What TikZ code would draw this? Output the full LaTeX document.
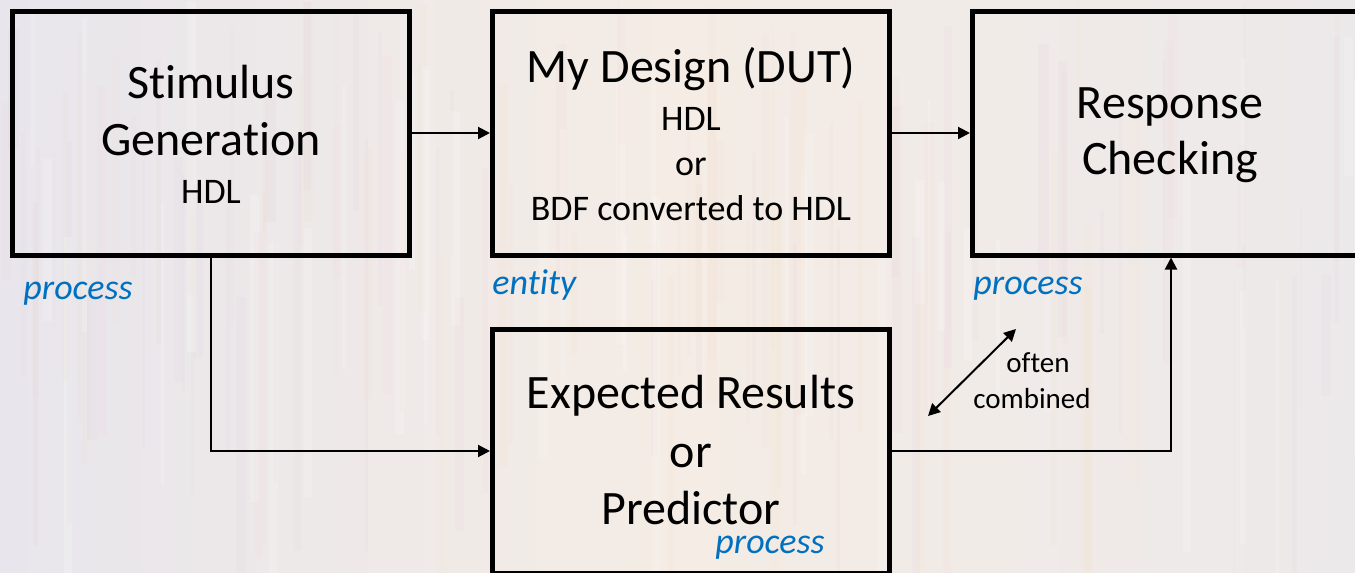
\documentclass[tikz,border=0pt]{standalone}
\usepackage{fontspec}
\setmainfont[Ligatures={NoCommon}]{Carlito}
\usetikzlibrary{arrows.meta}
\definecolor{labelblue}{HTML}{0070C0}
\definecolor{bgleft}{HTML}{E8E6EC}
\definecolor{bgmid}{HTML}{F4ECE5}
\definecolor{bgright}{HTML}{ECE9EA}
\begin{document}
\begin{tikzpicture}[x=0.5pt,y=-0.5pt,
  blk/.style={draw, line width=2.5pt, minimum width=198.5pt, minimum height=122pt, inner sep=0pt},
  big/.style={font=\fontsize{24}{28}\selectfont, anchor=base, inner sep=0pt},
  small/.style={font=\fontsize{18}{22}\selectfont, anchor=base, inner sep=0pt},
  tag/.style={font=\fontsize{18}{22}\selectfont\itshape, text=labelblue, anchor=base west, inner sep=0pt},
  note/.style={font=\fontsize{14.5}{18}\selectfont, anchor=base, inner sep=0pt},
  wire/.style={line width=1pt, -{Triangle[length=6pt,width=6pt]}},
  both/.style={line width=1pt, {Triangle[length=6pt,width=6pt]}-{Triangle[length=6pt,width=6pt]}}
]
% page frame and faded board-like backdrop
\useasboundingbox (0,0) rectangle (1355,573);
\clip (0,0) rectangle (1355,573);
\shade[left color=bgleft, right color=bgright, middle color=bgmid] (0,0) rectangle (1355,573);
\pgfmathsetseed{11}
\foreach \i in {1,...,140} {
  \pgfmathsetmacro{\sx}{rnd*1355}
  \pgfmathsetmacro{\sw}{2+rnd*9}
  \pgfmathsetmacro{\sy}{rnd*300}
  \pgfmathsetmacro{\sh}{120+rnd*300}
  \pgfmathtruncatemacro{\sc}{int(rnd*4)}
  \ifcase\sc
    \fill[violet!40, opacity=0.045] (\sx,\sy) rectangle ++(\sw,\sh);
  \or
    \fill[orange!50, opacity=0.045] (\sx,\sy) rectangle ++(\sw,\sh);
  \or
    \fill[white, opacity=0.18] (\sx,\sy) rectangle ++(\sw,\sh);
  \else
    \fill[red!30, opacity=0.04] (\sx,\sy) rectangle ++(\sw,\sh);
  \fi
}

% blocks
\node[blk] (stim) at (211,133) {};
\node[blk] (dut)  at (691,133) {};
\node[blk] (resp) at (1171,133) {};
\node[blk] (exp)  at (691,451) {};

% block texts
\node[big]   (stimA) at (211,98)  {Stimulus};
\node[big]   (stimB) at (211,155) {Generation};
\node[small] (stimC) at (211,203) {HDL};

\node[big]   (dutA) at (691,82)  {My Design (DUT)};
\node[small] (dutB) at (691,130) {HDL};
\node[small] (dutC) at (691,175) {or};
\node[small] (dutD) at (691,220) {BDF converted to HDL};

\node[big] (respA) at (1170,118) {Response};
\node[big] (respB) at (1170,174) {Checking};

\node[big] (expA) at (691,408) {Expected Results};
\node[big] (expB) at (691,467) {or};
\node[big] (expC) at (691,524) {Predictor};

% role labels
\node[tag] (tagStim) at (23,299)  {process};
\node[tag] (tagDut)  at (492,294) {entity};
\node[tag] (tagResp) at (973,294) {process};
\node[tag] (tagExp)  at (715,553) {process};

% connections
\draw[wire] (stim.east) -- (dut.west);
\draw[wire] (dut.east) -- (resp.west);
\draw[wire] (stim.south) |- (exp.west);
\draw[wire] (exp.east) -| (resp.south);

% note on merging the predictor and the checker
\coordinate (mA) at (928,416);
\coordinate (mB) at (1016,329);
\draw[both] (mA) -- (mB);
\node[note] (noteA) at (1038,372) {often};
\node[note] (noteB) at (1032,408) {combined};
\end{tikzpicture}
\end{document}
